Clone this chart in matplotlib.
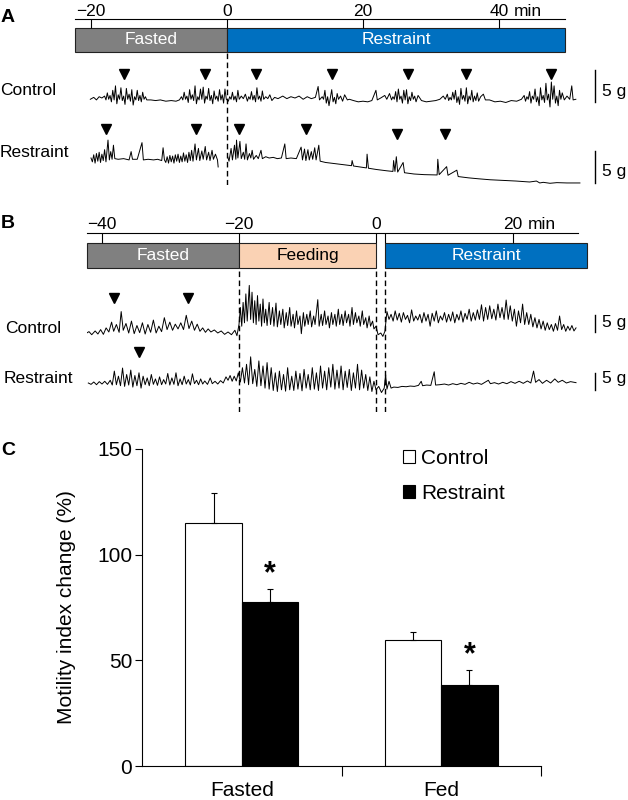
"""
Gastric motility traces (A, B) and motility index bar chart (C)
"""
import numpy as np
import matplotlib
matplotlib.use('Agg')
import matplotlib.pyplot as plt

plt.rcParams['font.family'] = ['Liberation Sans', 'DejaVu Sans']

W, H = 628, 800

# ---------------- data ----------------
# A: phases (min)
A_phase = ['Fasted', 'Restraint']
A_start = [-22.4, 0]
A_end = [0, 49.7]
A_ticks = [-20, 0, 20, 40]

# A: traces (min, g)
A_ctl = [(-20.1, -0.2), (-19.6, 0.1), (-19.2, -0.3), (-18.8, 0.2), (-18.4, 0.0),
         (-18.0, 0.3), (-17.8, -0.3), (-17.6, 0.8), (-17.4, -0.2), (-17.2, 0.4), (-17.0, -0.6),
         (-16.8, 1.2), (-16.6, -0.3), (-16.4, 1.9), (-16.2, -0.9), (-16.0, 0.5), (-15.8, -0.2),
         (-15.6, 1.6), (-15.4, -0.4), (-15.2, 0.3), (-15.0, -1.0), (-14.8, 1.5), (-14.6, -0.2),
         (-14.4, 0.6), (-14.2, -0.5), (-14.0, 1.3), (-13.8, -1.1), (-13.6, 0.2), (-13.4, -0.3),
         (-13.2, 1.2), (-13.0, -0.4), (-12.8, 0.4), (-12.6, -0.6), (-12.4, 0.9), (-12.2, -0.2),
         (-12.0, 0.2), (-11.8, -0.3),
         (-11.2, -0.3), (-10.5, -0.4), (-9.8, -0.3), (-9.0, -0.5), (-8.2, -0.4), (-7.5, -0.5), (-7.0, -0.3),
         (-6.7, 0.2), (-6.5, -0.3), (-6.3, 0.9), (-6.1, -0.2), (-5.9, 0.3), (-5.7, -0.7), (-5.5, 1.3),
         (-5.3, -0.2), (-5.1, 0.5), (-4.9, -0.4), (-4.7, 1.9), (-4.5, -0.9), (-4.3, 0.2), (-4.1, -0.3),
         (-3.9, 1.4), (-3.7, -0.2), (-3.5, 1.7), (-3.3, -0.8), (-3.1, 0.3), (-2.9, -0.2), (-2.7, 1.5),
         (-2.5, -0.4), (-2.3, 0.4), (-2.1, -0.9), (-1.9, 1.1), (-1.7, -0.2), (-1.5, 0.3), (-1.3, -0.5),
         (-1.1, 1.3), (-0.9, -0.3), (-0.7, 0.5), (-0.5, -0.8), (-0.3, 1.4), (-0.1, -0.2),
         (0.2, -0.5), (0.4, 0.2), (0.6, -0.2), (0.8, 0.9), (1.0, -0.3), (1.2, 0.3), (1.4, -0.6),
         (1.6, 1.2), (1.8, -0.2), (2.1, 0.3), (2.4, -0.1), (2.7, 0.6), (3.0, -0.5), (3.2, 0.2),
         (3.4, -0.2), (3.6, 1.0), (3.8, -0.3), (4.0, 0.4), (4.2, -0.6), (4.4, 1.6), (4.6, -0.2),
         (4.8, 0.3), (5.0, -0.5), (5.2, 1.1), (5.4, -0.2), (5.7, 0.2), (6.0, -0.1), (6.3, 0.5),
         (6.6, -0.4), (7.0, 0.1), (7.5, -0.1),
         (8.2, 0.3), (8.8, -0.1), (9.4, 0.2), (10.0, 0.0), (10.6, 0.3), (11.2, -0.2), (11.8, 0.2),
         (12.4, -0.1), (13.0, 0.1), (13.4, 1.8), (13.6, -0.3),
         (14.0, 0.2), (14.2, -0.2), (14.4, 1.2), (14.6, -0.8), (14.8, 0.2), (15.0, -1.2), (15.2, 0.1),
         (15.4, 1.3), (15.6, -0.6), (15.8, 0.1), (16.0, -0.9), (16.2, 0.7), (16.4, -0.2), (16.7, 0.3),
         (17.0, -0.5), (17.3, 0.5), (17.7, -0.3), (18.0, -0.2),
         (18.6, -0.4), (19.3, -0.6), (20.0, -0.5), (20.7, -0.6), (21.3, -0.4), (21.9, 1.2), (22.1, -0.3),
         (22.6, 0.0), (23.2, 0.4), (23.5, -0.2), (23.9, 0.7),
         (24.2, -0.3), (24.4, 0.2), (24.6, -0.2), (24.8, 1.0), (25.0, -0.6), (25.2, 1.4), (25.4, -0.2),
         (25.6, 0.3), (25.8, -0.8), (26.0, 1.2), (26.2, -0.3), (26.4, 1.3), (26.6, -0.9), (26.8, 0.2),
         (27.0, -0.4), (27.2, 0.9), (27.4, -0.2), (27.6, 0.3), (27.8, -0.6), (28.1, 0.4),
         (28.6, -0.4), (29.3, -0.6), (30.0, -0.5), (30.7, -0.4), (31.3, -0.2),
         (31.8, 0.3), (32.1, -0.2), (32.4, 0.6), (32.6, -0.4), (32.8, 0.1), (33.0, -0.3), (33.2, 0.9),
         (33.4, -0.2), (33.6, 1.2), (33.8, -0.7), (34.0, 0.2), (34.2, -1.0), (34.4, 1.5), (34.6, -0.2),
         (34.8, 0.4), (35.0, -0.5), (35.2, 1.6), (35.4, -0.9), (35.6, 0.3), (35.8, -0.3), (36.0, 1.2),
         (36.2, -0.6), (36.4, 0.3), (36.6, -0.4), (36.8, 0.8), (37.0, -0.5), (37.3, 0.2), (37.7, 0.6),
         (38.0, -0.3),
         (38.6, -0.3), (39.4, -0.6), (40.2, -0.5), (41.0, -0.7), (41.8, -0.4), (42.6, -0.5), (43.3, -0.2),
         (43.7, 0.4), (43.9, -0.5), (44.1, 0.2), (44.3, -0.2), (44.5, 1.0), (44.7, -0.8), (44.9, 0.3),
         (45.1, -0.2), (45.3, 1.4), (45.5, -0.6), (45.7, 0.2), (45.9, -1.2), (46.1, 1.6), (46.3, -0.3),
         (46.5, 0.4), (46.7, -0.7), (46.9, 2.3), (47.1, -0.3), (47.3, 0.6), (47.5, -1.4), (47.7, 2.5),
         (47.9, -0.2), (48.1, 1.9), (48.3, -0.8), (48.5, 0.3), (48.7, -1.2), (48.9, 1.2), (49.1, -0.2),
         (49.3, 0.8), (49.6, -0.3), (50.0, 0.3), (50.4, -0.2), (50.7, 1.9), (50.9, -0.3), (51.3, -0.2)]

A_rst = [(-20.0, 0.0), (-19.8, -0.6), (-19.6, 0.5), (-19.4, -0.8), (-19.2, 0.7), (-19.0, -0.5),
         (-18.8, 0.9), (-18.6, -0.7), (-18.4, 0.6), (-18.2, -0.4), (-18.0, 1.3), (-17.8, -0.6),
         (-17.5, 2.8), (-17.3, -0.3), (-17.1, 1.0), (-16.9, -0.2), (-16.7, 2.0), (-16.5, -0.1),
         (-16.0, -0.2), (-15.2, -0.1), (-14.4, -0.3), (-14.1, 1.0), (-13.9, -0.2), (-13.2, -0.2),
         (-12.5, 2.4), (-12.3, -0.3), (-11.6, -0.2), (-10.8, -0.3), (-10.2, -0.2), (-9.6, -0.4),
         (-9.4, 1.6), (-9.2, -0.3),
         (-9.0, -0.7), (-8.8, 0.2), (-8.6, -0.8), (-8.4, 0.4), (-8.2, -0.6), (-8.0, 0.3), (-7.8, -0.8),
         (-7.6, 0.5), (-7.4, -0.5), (-7.2, 0.6), (-7.0, -0.7), (-6.8, 0.3), (-6.6, -0.6), (-6.4, 0.8),
         (-6.2, -0.5), (-6.0, 0.5), (-5.8, -0.7), (-5.6, 0.9), (-5.4, -0.4), (-5.2, 1.2), (-5.0, -0.5),
         (-4.7, 2.2), (-4.5, -0.3), (-4.2, 1.5), (-4.0, -0.4), (-3.7, 1.1), (-3.5, -0.2), (-3.2, 1.8),
         (-3.0, -0.3), (-2.7, 0.9), (-2.5, -0.4), (-2.2, 1.2), (-2.0, -0.2), (-1.7, 0.6), (-1.4, -0.3),
         (-1.3, -1.4), (-0.6, np.nan),
         (0.1, 0.2), (0.3, -0.5), (0.6, 1.5), (0.8, -0.3), (1.1, 2.0), (1.3, -0.2), (1.4, 2.8), (1.6, 0.0),
         (1.9, 2.6), (2.1, -0.1), (2.4, 0.9), (2.6, -0.2), (2.8, 2.2), (3.0, -0.3), (3.3, 0.7), (3.5, 0.0),
         (3.7, 1.2), (3.9, -0.2), (4.3, 0.4), (4.6, -0.1), (5.0, 1.2), (5.2, -0.1), (5.7, 0.2), (6.2, 0.0),
         (6.8, 0.1), (7.4, -0.1), (8.0, 0.0), (8.5, 2.2), (8.7, -0.1), (9.4, 0.0), (10.2, -0.1),
         (10.9, 1.7), (11.1, -0.3), (11.4, 1.4), (11.6, -0.4), (11.9, 1.3), (12.1, -0.3), (12.4, 1.0),
         (12.6, -0.2), (12.9, 1.6), (13.1, -0.3), (13.5, 2.0), (13.7, -0.5),
         (14.5, -0.7), (16.0, -0.9), (17.5, -1.1), (18.3, -1.2), (18.4, -0.4), (18.6, -1.25), (19.5, -1.4),
         (20.5, -1.55), (20.6, 0.6), (20.8, -1.6), (22.0, -1.8), (23.5, -2.0), (24.4, -2.1), (24.5, -0.4),
         (24.7, -2.1), (24.9, 0.2), (25.1, -2.2), (25.9, -0.7), (26.1, -2.3), (27.5, -2.5), (29.0, -2.6),
         (30.9, -2.65), (31.0, -0.2), (31.2, -2.6), (32.3, -1.35), (32.5, -2.7), (33.8, -1.9), (34.0, -2.9),
         (35.5, -3.1), (37.0, -3.25), (38.7, -3.4), (40.5, -3.5), (42.5, -3.6), (44.5, -3.75), (45.5, -3.6),
         (46.0, -3.9), (46.5, -3.8), (47.5, -3.95), (48.5, -3.85), (50.0, -3.9), (51.9, -3.9)]

A_ctl_arrows = [-15.2, -3.3, 4.2, 15.4, 26.6, 35.1, 47.6]
A_ctl_arrow_y = [3.7] * 7
A_rst_arrows = [-17.8, -4.6, 1.8, 11.6, 25.0, 32.1]
A_rst_arrow_y = [4.6, 4.6, 4.6, 4.6, 3.7, 3.7]

# B: phases (min)
B_phase = ['Fasted', 'Feeding', 'Restraint']
B_start = [-42.2, -20, 1.3]
B_end = [-20, 0, 30.8]
B_ticks = [-40, -20, 0, 20]

B_ctl = [(-42.4, -0.2), (-41.9, 0.4), (-41.5, -0.5), (-41.0, 0.6), (-40.6, -0.3), (-40.2, 1.0),
         (-39.8, -0.4), (-39.4, 1.5), (-39.0, 0.3), (-38.6, 3.2), (-38.3, 0.5), (-37.9, 2.5), (-37.5, 0.2),
         (-37.2, 6.3), (-36.9, 0.8), (-36.5, 2.8), (-36.1, 0.0), (-35.7, 3.5), (-35.3, -0.2), (-34.9, 2.2),
         (-34.5, 0.1), (-34.1, 3.0), (-33.7, -0.3), (-33.3, 2.5), (-32.9, 0.2), (-32.5, 3.8), (-32.1, 0.0),
         (-31.7, 2.0), (-31.3, 0.4), (-30.9, 4.5), (-30.5, 1.0), (-30.1, 3.2), (-29.7, 0.8), (-29.3, 2.6),
         (-28.9, 1.2), (-28.5, 3.0), (-28.1, 1.0), (-27.7, 5.2), (-27.3, 1.3), (-26.9, 3.5), (-26.5, 0.8),
         (-26.1, 2.6), (-25.7, 0.5), (-25.3, 1.5), (-24.9, 0.2), (-24.5, 1.2), (-24.1, 0.3), (-23.6, 0.9),
         (-23.1, 0.0), (-22.6, 0.6), (-22.1, -0.4), (-21.6, 0.3), (-21.1, -0.5), (-20.6, 0.8), (-20.3, -0.8),
         (-20.0, 2.5), (-19.8, 7.5), (-19.6, 2.0), (-19.4, 9.0), (-19.2, 3.0), (-19.0, 11.5), (-18.8, 3.5),
         (-18.5, 14.0), (-18.3, 4.0), (-18.1, 12.0), (-17.9, 3.0), (-17.7, 9.5), (-17.5, 2.5), (-17.3, 11.0),
         (-17.1, 3.5), (-16.9, 8.5), (-16.7, 2.0), (-16.5, 10.0), (-16.3, 3.0), (-16.1, 7.0), (-15.9, 2.2),
         (-15.6, 9.0), (-15.4, 2.5), (-15.1, 7.5), (-14.9, 2.0), (-14.6, 8.8), (-14.4, 1.8), (-14.1, 6.5),
         (-13.9, 2.5), (-13.6, 7.0), (-13.4, 1.5), (-13.1, 6.0), (-12.9, 2.2), (-12.6, 7.5), (-12.4, 2.0),
         (-12.1, 5.5), (-11.9, 1.5), (-11.6, 6.5), (-11.4, 2.5), (-11.1, 5.0), (-10.9, -0.2), (-10.6, 6.0),
         (-10.4, 2.0), (-10.1, 5.5), (-9.9, 2.5), (-9.6, 6.5), (-9.4, 1.8), (-9.1, 5.0), (-8.9, 2.5),
         (-8.5, 9.8), (-8.3, 2.0), (-8.0, 5.5), (-7.8, 2.2), (-7.5, 6.5), (-7.3, 2.5), (-7.0, 5.0),
         (-6.8, 1.5), (-6.5, 6.0), (-6.3, 2.5), (-6.0, 5.5), (-5.8, 2.0), (-5.5, 7.0), (-5.3, 2.5),
         (-5.0, 5.5), (-4.8, 2.2), (-4.5, 6.5), (-4.3, 3.0), (-4.0, 5.5), (-3.8, 2.0), (-3.5, 7.5),
         (-3.3, 2.5), (-3.0, 6.0), (-2.8, 3.0), (-2.5, 5.0), (-2.3, 2.0), (-2.0, 6.5), (-1.8, 2.5),
         (-1.5, 4.5), (-1.3, 1.5), (-1.0, 5.0), (-0.8, 2.0), (-0.5, 3.5), (-0.3, 1.2), (0.0, 2.0),
         (0.3, -0.5), (0.7, 0.0), (1.0, -1.0), (1.3, 0.5),
         (1.6, 6.3), (1.9, 4.0), (2.2, 5.5), (2.5, 3.5), (2.8, 6.5), (3.1, 3.8), (3.4, 5.8), (3.7, 3.2),
         (4.0, 6.0), (4.3, 4.0), (4.6, 5.2), (4.9, 3.0), (5.2, 6.8), (5.5, 3.5), (5.8, 5.0), (6.1, 3.8),
         (6.4, 5.5), (6.7, 3.0), (7.0, 6.0), (7.3, 3.5), (7.6, 5.5), (7.9, 2.0), (8.2, 5.8), (8.5, 3.5),
         (8.8, 6.5), (9.1, 3.0), (9.4, 5.0), (9.7, 3.8), (10.0, 6.0), (10.3, 3.2), (10.6, 5.5), (10.9, 3.5),
         (11.2, 6.2), (11.5, 3.0), (11.8, 5.5), (12.1, 3.8), (12.4, 6.5), (12.7, 3.2), (13.0, 5.8),
         (13.3, 4.0), (13.6, 7.0), (13.9, 3.5), (14.2, 6.0), (14.5, 3.8), (14.8, 6.8), (15.1, 4.0),
         (15.4, 8.3), (15.7, 3.5), (16.0, 7.5), (16.3, 4.0), (16.6, 8.0), (16.9, 4.2), (17.2, 7.0),
         (17.5, 3.8), (17.8, 8.5), (18.1, 4.5), (18.4, 7.5), (18.7, 4.0), (19.0, 9.7), (19.3, 4.0),
         (19.6, 8.0), (19.9, 3.5), (20.2, 7.0), (20.5, 2.0), (20.8, 6.5), (21.1, 3.0), (21.4, 8.5),
         (21.7, 2.5), (22.0, 6.0), (22.3, 2.5), (22.6, 5.5), (22.9, 1.8), (23.2, 4.5), (23.5, 1.5),
         (23.8, 4.0), (24.1, 1.2), (24.4, 3.5), (24.7, 0.8), (25.0, 3.0), (25.3, 1.0), (25.6, 2.5),
         (25.9, 0.5), (26.2, 2.8), (26.5, 0.8), (26.8, 5.0), (27.1, 1.0), (27.4, 2.5), (27.7, 0.5),
         (28.0, 2.0), (28.3, 0.8), (28.6, 2.2), (28.9, 0.6), (29.2, 1.5)]

B_rst = [(-42.0, 0.0), (-41.6, -0.4), (-41.2, 0.3), (-40.8, -0.5), (-40.4, 0.4), (-40.0, -0.3),
         (-39.6, 0.5), (-39.2, -0.4), (-38.8, 0.8), (-38.5, -0.6), (-38.2, 3.5), (-37.9, -0.5),
         (-37.6, 2.0), (-37.3, -0.8), (-37.0, 4.4), (-36.7, -1.0), (-36.4, 2.5), (-36.1, -0.6),
         (-35.8, 3.8), (-35.5, -1.2), (-35.2, 2.2), (-34.9, -0.8), (-34.6, 3.0), (-34.3, -1.5),
         (-34.0, 2.0), (-33.7, -0.5), (-33.4, 1.5), (-33.1, -0.8), (-32.8, 2.5), (-32.5, -0.4),
         (-32.2, 1.2), (-31.9, -0.7), (-31.6, 1.8), (-31.3, -0.5), (-31.0, 1.0), (-30.7, -0.3),
         (-30.4, 2.8), (-30.1, -0.6), (-29.8, 1.5), (-29.5, -0.4), (-29.2, 3.0), (-28.9, -0.8),
         (-28.6, 1.2), (-28.3, -0.5), (-28.0, 2.0), (-27.7, -0.3), (-27.4, 1.0), (-27.1, -0.6),
         (-26.8, 2.7), (-26.5, -0.2), (-26.2, 0.8), (-25.9, -0.5), (-25.6, 1.2), (-25.3, -0.3),
         (-25.0, 0.6), (-24.6, -0.4), (-24.2, 1.5), (-23.9, -0.2), (-23.5, 0.5), (-23.1, -0.3),
         (-22.7, 0.7), (-22.3, 0.0), (-21.9, 1.8), (-21.6, 0.8), (-21.3, 2.2), (-21.0, 0.5),
         (-20.7, 2.0), (-20.4, 0.6), (-20.1, 3.0), (-19.8, 0.3), (-19.5, 4.5), (-19.2, 0.0),
         (-18.9, 5.5), (-18.6, -0.5), (-18.3, 7.7), (-18.0, -0.2), (-17.7, 4.0), (-17.4, -1.0),
         (-17.1, 6.5), (-16.8, -0.8), (-16.5, 5.0), (-16.2, -1.5), (-15.9, 6.0), (-15.6, -1.8),
         (-15.3, 4.5), (-15.0, -2.2), (-14.7, 3.0), (-14.4, -2.5), (-14.1, 3.5), (-13.8, -2.0),
         (-13.5, 2.5), (-13.2, -2.4), (-12.9, 4.5), (-12.6, -2.0), (-12.3, 2.0), (-12.0, -2.2),
         (-11.7, 3.5), (-11.4, -1.8), (-11.1, 2.8), (-10.8, -2.3), (-10.5, 4.0), (-10.2, -1.5),
         (-9.9, 2.5), (-9.6, -2.0), (-9.3, 4.5), (-9.0, -1.8), (-8.7, 3.0), (-8.4, -2.2), (-8.1, 5.0),
         (-7.8, -1.5), (-7.5, 3.5), (-7.2, -2.0), (-6.9, 4.5), (-6.6, -1.2), (-6.3, 5.5), (-6.0, -1.8),
         (-5.7, 3.8), (-5.4, -1.5), (-5.1, 5.0), (-4.8, -2.0), (-4.5, 3.5), (-4.2, -1.3), (-3.9, 4.0),
         (-3.6, -2.2), (-3.3, 3.0), (-3.0, -1.5), (-2.7, 5.5), (-2.4, -2.0), (-2.1, 3.8), (-1.8, -1.5),
         (-1.5, 2.5), (-1.2, -2.2), (-0.9, 1.8), (-0.6, -2.5), (-0.3, 0.5), (0.0, -2.0), (0.4, -1.0),
         (0.8, -2.8), (1.2, -1.5), (1.4, 2.5), (1.6, -1.8), (1.9, 0.5), (2.2, -1.5), (2.6, -1.2),
         (3.2, -1.3), (3.8, -1.0), (4.4, -1.1), (5.0, -0.9), (5.6, -1.0), (6.2, -0.7), (6.6, 0.5),
         (6.8, -0.8), (7.4, -0.6), (8.0, -0.7), (8.5, 3.3), (8.7, -0.6), (9.3, -0.5), (10.0, -0.3),
         (10.6, -0.6), (11.2, -0.2), (11.8, -0.5), (12.4, -0.1), (13.0, -0.4), (13.6, 0.2), (14.2, -0.3),
         (14.8, 0.0), (15.4, -0.4), (16.0, 0.3), (16.4, 0.8), (16.7, -0.2), (17.3, 0.1), (17.9, -0.3),
         (18.5, 0.2), (19.1, -0.2), (19.7, 0.4), (20.3, -0.1), (20.9, 0.5), (21.5, -0.1), (22.1, 0.6),
         (22.6, 0.0), (23.0, 3.5), (23.3, 0.2), (23.8, 1.0), (24.3, -0.1), (24.9, 0.8), (25.5, 0.0),
         (26.1, 1.2), (26.6, 0.2), (27.2, 0.8), (27.8, 0.0), (28.4, 0.4), (29.2, 0.1)]

B_ctl_arrows = [-38.2, -27.5]
B_ctl_arrow_y = [10.2, 10.2]
B_rst_arrows = [-34.6]
B_rst_arrow_y = [9.2]

# C: motility index change (%)
groups = ['Fasted', 'Fed']
ctl_mean = [115.1, 59.8]
ctl_sem = [13.9, 3.4]
rst_mean = [77.4, 38.5]
rst_sem = [6.3, 6.7]

colors = {'Fasted': '#808080', 'Feeding': '#FAD2B4', 'Restraint': '#0070C0'}
txtcol = {'Fasted': 'white', 'Feeding': 'black', 'Restraint': 'white'}
FS = 12.5

fig = plt.figure(figsize=(W / 100, H / 100), dpi=100)


def box(l, t, r, b):
    return [l / W, 1 - b / H, (r - l) / W, (b - t) / H]


def timeline(l, t, r, b, bar_top, x0, ppm, phases, starts, ends, ticks, pad):
    ax = fig.add_axes(box(l, t, r, b))
    ax.set_xlim((l - x0) / ppm, (r - x0) / ppm)
    ax.set_ylim(0, 1)
    h = (b - bar_top) / (b - t)
    for name, s, e in zip(phases, starts, ends):
        ax.barh(0, e - s, left=s, height=h, align='edge', color=colors[name],
                edgecolor='#222222', linewidth=0.8, clip_on=False)
        ax.text((s + e) / 2, h / 2, name, ha='center', va='center',
                color=txtcol[name], fontsize=FS)
    for sp in ['left', 'right', 'bottom']:
        ax.spines[sp].set_visible(False)
    ax.spines['top'].set_linewidth(0.8)
    ax.set_yticks([])
    ax.set_xticks(ticks)
    ax.xaxis.tick_top()
    ax.tick_params(axis='x', which='both', direction='in', length=(bar_top - t) * 0.72,
                   width=0.8, pad=pad, labelsize=FS)
    ax.annotate('min', xy=(ticks[-1], 1), xycoords=('data', 'axes fraction'),
                xytext=(10.4, pad), textcoords='offset points', ha='left', va='bottom', fontsize=FS)
    return ax


def trace_ax(l, t, r, b, x0, ppm, y0, ppg, data, arrows, arrow_y, bar_x, bar_y):
    ax = fig.add_axes(box(l, t, r, b))
    ax.set_xlim((l - x0) / ppm, (r - x0) / ppm)
    ax.set_ylim((y0 - b) / ppg, (y0 - t) / ppg)
    ax.axis('off')
    tt, yy = np.array(data).T
    ax.plot(tt, yy, color='k', lw=0.7)
    ax.plot(arrows, arrow_y, 'kv', ms=7)
    # 5 g scale bar
    ax.plot([bar_x, bar_x], [bar_y, bar_y + 5], color='k', lw=1)
    return ax


def dashed(l, t, r, b, x0, ppm, xs):
    ax = fig.add_axes(box(l, t, r, b))
    ax.set_xlim((l - x0) / ppm, (r - x0) / ppm)
    ax.axis('off')
    for x in xs:
        ax.axvline(x, color='k', lw=1, ls=(0, (4, 2.5)))


# ==================== A ====================
timeline(75, 19, 565, 52, 28, 227, 6.8, A_phase, A_start, A_end, A_ticks, 0)
trace_ax(75, 60, 628, 125, 227, 6.8, 98, 6.4, A_ctl, A_ctl_arrows, A_ctl_arrow_y,
         (595 - 227) / 6.8, (98 - 102) / 6.4)
trace_ax(75, 120, 628, 205, 227, 6.8, 158, 6.4, A_rst, A_rst_arrows, A_rst_arrow_y,
         (595 - 227) / 6.8, (158 - 183) / 6.4)
dashed(75, 52, 565, 185, 227, 6.8, [A_end[0]])

# ==================== B ====================
axB = timeline(87, 233, 578, 268, 243, 376, 6.85, B_phase, B_start, B_end, B_ticks, 0.5)
axB.set_xticks([B_start[2]], minor=True)
trace_ax(87, 275, 628, 352, 376, 6.85, 333, 3.4, B_ctl, B_ctl_arrows, B_ctl_arrow_y,
         (595 - 376) / 6.85, (333 - 332) / 3.4)
trace_ax(87, 345, 628, 415, 376, 6.85, 383, 3.4, B_rst, B_rst_arrows, B_rst_arrow_y,
         (595 - 376) / 6.85, (383 - 390) / 3.4)
dashed(87, 268, 578, 412, 376, 6.85, [B_start[1], B_end[1], B_start[2]])

# labels for A, B
for txt, x, y in [('Control', 0, 95), ('Restraint', 0, 157), ('Control', 5, 333), ('Restraint', 4, 383)]:
    fig.text(x / W, 1 - y / H, txt, fontsize=FS, va='baseline')
for y in [96, 176, 327, 383]:
    fig.text(602 / W, 1 - y / H, '5 g', fontsize=FS, va='baseline')
for txt, y in [('A', 22), ('B', 228), ('C', 455)]:
    fig.text(1 / W, 1 - y / H, txt, fontsize=14, fontweight='bold', va='baseline')

# ==================== C ====================
axC = fig.add_axes(box(142, 449, 541, 766))
x = np.arange(len(groups))
w = 0.283
axC.bar(x - w / 2, ctl_mean, w, color='white', edgecolor='k', linewidth=0.8, label='Control')
axC.bar(x + w / 2, rst_mean, w, color='black', edgecolor='k', linewidth=0.8, label='Restraint')
axC.errorbar(x - w / 2, ctl_mean, yerr=[np.zeros(2), ctl_sem], fmt='none', ecolor='k',
             elinewidth=0.8, capsize=2, capthick=0.8)
axC.errorbar(x + w / 2, rst_mean, yerr=[np.zeros(2), rst_sem], fmt='none', ecolor='k',
             elinewidth=0.8, capsize=2, capthick=0.8)
for i in range(len(groups)):
    axC.annotate('*', xy=(x[i] + w / 2, rst_mean[i] + rst_sem[i]), xytext=(0, 11),
                 textcoords='offset points', ha='center', va='center', fontsize=22, fontweight='bold')

axC.set_xlim(-0.5, 1.5)
axC.set_ylim(0, 150)
axC.set_yticks([0, 50, 100, 150])
axC.set_xticks(x)
axC.set_xticklabels(groups)
axC.set_xticks([0.5, 1.5], minor=True)
axC.tick_params(axis='x', which='major', length=0, pad=11, labelsize=15)
axC.tick_params(axis='x', which='minor', length=7, width=0.8, direction='out')
axC.tick_params(axis='y', length=5, width=0.8, labelsize=15, pad=2)
for sp in ['top', 'right']:
    axC.spines[sp].set_visible(False)
for sp in ['left', 'bottom']:
    axC.spines[sp].set_linewidth(0.8)
axC.set_ylabel('Motility index change (%)', fontsize=15, labelpad=15)
axC.legend(loc='upper left', bbox_to_anchor=(0.655, 1.0), frameon=False, fontsize=15,
           handlelength=0.55, handleheight=0.55, handletextpad=0.3, labelspacing=0.75,
           borderpad=0, borderaxespad=0)

fig.savefig('out.png', dpi=100)
print('Saved: out.png')
